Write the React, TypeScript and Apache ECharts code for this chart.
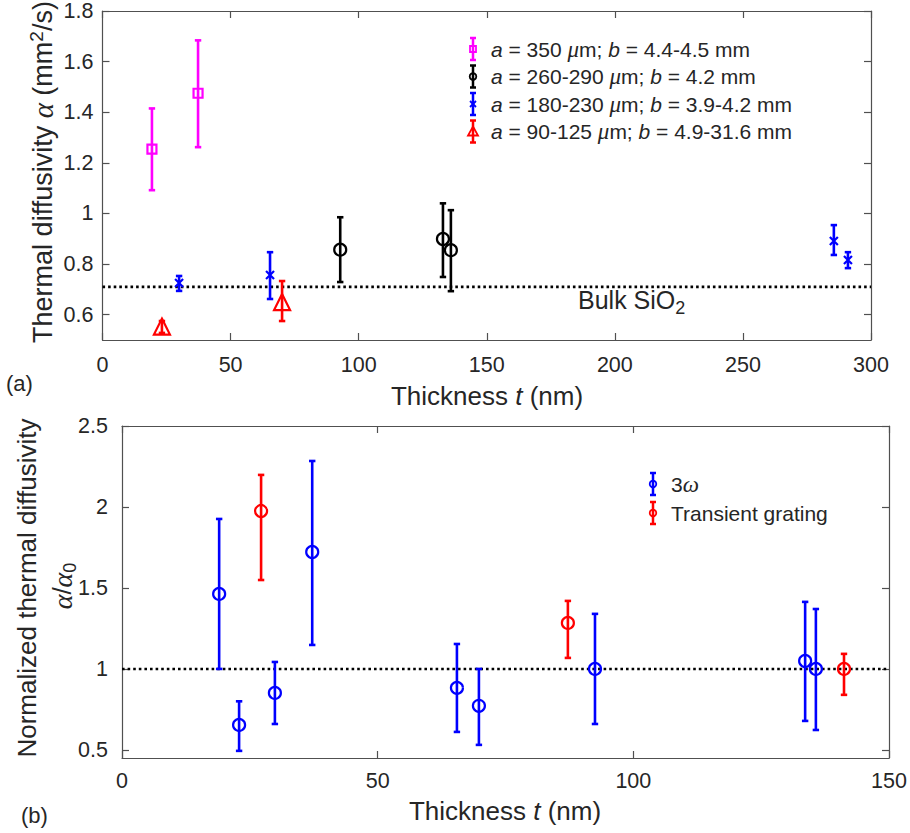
import React, { useEffect, useRef } from "react";
import * as echarts from "echarts";

// ---------- data ----------
// [thickness t (nm), value, lower, upper]
const magentaData = [
  [19.3, 1.254, 1.092, 1.415],
  [37.3, 1.475, 1.262, 1.684],
];
const blackData = [
  [92.8, 0.857, 0.729, 0.985],
  [132.9, 0.899, 0.749, 1.04],
  [136.0, 0.855, 0.693, 1.013],
];
const blueTopData = [
  [29.9, 0.725, 0.694, 0.753],
  [65.4, 0.757, 0.662, 0.847],
  [285.5, 0.891, 0.836, 0.954],
  [291.0, 0.816, 0.784, 0.847],
];
const redTopData = [
  [23.2, 0.553, 0.528, 0.575],
  [70.1, 0.65, 0.575, 0.733],
];
const omegaData = [
  [19.0, 1.463, 1.0, 1.926],
  [22.9, 0.654, 0.494, 0.8],
  [29.9, 0.852, 0.66, 1.043],
  [37.2, 1.722, 1.148, 2.284],
  [65.5, 0.883, 0.611, 1.154],
  [69.8, 0.772, 0.531, 1.0],
  [92.5, 1.0, 0.66, 1.34],
  [133.6, 1.049, 0.679, 1.414],
  [135.7, 1.0, 0.623, 1.37],
];
const tgData = [
  [27.2, 1.975, 1.549, 2.198],
  [87.2, 1.284, 1.068, 1.42],
  [141.2, 1.0, 0.84, 1.093],
];
const bulkAlpha = 0.71;
const normRef = 1;
const yTopTicks = [0.6, 0.8, 1, 1.2, 1.4, 1.6, 1.8];
const yBotTicks = [0.5, 1, 1.5, 2, 2.5];
const topLegend = [
  "{i|a} = 350 {g|\u03bc}m; {i|b} = 4.4-4.5 mm",
  "{i|a} = 260-290 {g|\u03bc}m; {i|b} = 4.2 mm",
  "{i|a} = 180-230 {g|\u03bc}m; {i|b} = 3.9-4.2 mm",
  "{i|a} = 90-125 {g|\u03bc}m; {i|b} = 4.9-31.6 mm",
];
const botLegend = ["3{g|\u03c9}", "Transient grating"];

// ---------- styling ----------
const FONT = "'Liberation Sans', Arial, Helvetica, sans-serif";
const SERIF = "'Liberation Serif', 'DejaVu Serif', serif";
const TXT = "#262626";
const AX = "#505050";
const MAG = "#ff00ff";
const BLU = "#0000ff";
const RED = "#ff0000";
const BLK = "#000000";
const TICK_FS = 21.5;
const TITLE_FS = 26;
const LEG_FS = 21;

const richBase = (fs: number) => ({
  i: { fontStyle: "italic", fontFamily: FONT, fontSize: fs, color: TXT },
  g: { fontStyle: "italic", fontFamily: SERIF, fontSize: fs + 2, color: TXT },
  sub: { fontFamily: FONT, fontSize: Math.round(fs * 0.7), color: TXT, padding: [16, 0, 0, 0], lineHeight: 14 },
  sup: { fontFamily: FONT, fontSize: Math.round(fs * 0.7), color: TXT, padding: [0, 0, 13, 0], lineHeight: 14 },
});

function errorBars(data: number[][], color: string, xi: number, yi: number) {
  return {
    type: "custom",
    xAxisIndex: xi,
    yAxisIndex: yi,
    data,
    silent: true,
    z: 2,
    encode: { x: 0, y: [1, 2, 3] },
    renderItem: (_p: any, api: any) => {
      const x = api.value(0);
      const a = api.coord([x, api.value(3)]);
      const b = api.coord([x, api.value(2)]);
      const st = { stroke: color, lineWidth: 2.6 };
      const c = 3.2;
      return {
        type: "group",
        children: [
          { type: "line", shape: { x1: a[0], y1: a[1], x2: b[0], y2: b[1] }, style: st },
          { type: "line", shape: { x1: a[0] - c, y1: a[1], x2: a[0] + c, y2: a[1] }, style: st },
          { type: "line", shape: { x1: b[0] - c, y1: b[1], x2: b[0] + c, y2: b[1] }, style: st },
        ],
      };
    },
  };
}

function markers(data: number[][], color: string, symbol: string, size: number, xi: number, yi: number) {
  return {
    type: "scatter",
    xAxisIndex: xi,
    yAxisIndex: yi,
    data: data.map((d) => [d[0], d[1]]),
    symbol,
    symbolSize: size,
    silent: true,
    z: 3,
    itemStyle: { color: "rgba(0,0,0,0)", borderColor: color, borderWidth: 2.2, opacity: 1 },
  };
}

function legendIcon(x: number, y: number, color: string, marker: string): any[] {
  const h = 11;
  const c = 3;
  const st = { stroke: color, lineWidth: 2.5 };
  const els: any[] = [
    { type: "line", shape: { x1: x, y1: y - h, x2: x, y2: y + h }, style: st },
    { type: "line", shape: { x1: x - c, y1: y - h, x2: x + c, y2: y - h }, style: st },
    { type: "line", shape: { x1: x - c, y1: y + h, x2: x + c, y2: y + h }, style: st },
  ];
  const ms = { stroke: color, lineWidth: 1.8, fill: "none" };
  if (marker === "square") els.push({ type: "rect", shape: { x: x - 3, y: y - 3, width: 6, height: 6 }, style: ms });
  if (marker === "circle") els.push({ type: "circle", shape: { cx: x, cy: y, r: 3.3 }, style: ms });
  if (marker === "x") {
    els.push({ type: "line", shape: { x1: x - 3, y1: y - 3, x2: x + 3, y2: y + 3 }, style: ms });
    els.push({ type: "line", shape: { x1: x - 3, y1: y + 3, x2: x + 3, y2: y - 3 }, style: ms });
  }
  if (marker === "triangle")
    els.push({ type: "polygon", shape: { points: [[x, y - 5], [x + 5, y + 4], [x - 5, y + 4]] }, style: ms });
  return els;
}

function text(x: number, y: number, str: string, fs: number, opts: any = {}) {
  return {
    type: "text",
    x,
    y,
    rotation: opts.rotation || 0,
    z: 10,
    style: {
      text: str,
      fontFamily: FONT,
      fontSize: fs,
      fill: TXT,
      align: opts.align || "left",
      verticalAlign: "middle",
      textAlign: opts.align || "left",
      textVerticalAlign: "middle",
      rich: richBase(fs),
    },
  };
}

const xAxisCommon = (min: number, max: number, grid: number, pos: string, labels: boolean, margin: number) => ({
  type: "value",
  gridIndex: grid,
  min,
  max,
  interval: 50,
  position: pos,
  axisLine: { show: true, onZero: false, lineStyle: { color: AX, width: 1.2 } },
  axisTick: { show: true, inside: true, length: 7, lineStyle: { color: AX, width: 1.2 } },
  axisLabel: { show: labels, color: TXT, fontSize: TICK_FS, fontFamily: FONT, margin },
  splitLine: { show: false },
});

const yAxisCommon = (min: number, max: number, ticks: number[], grid: number, pos: string, labels: boolean, margin: number) => ({
  type: "value",
  gridIndex: grid,
  min,
  max,
  position: pos,
  axisLine: { show: true, onZero: false, lineStyle: { color: AX, width: 1.2 } },
  axisTick: { show: true, inside: true, length: 7, customValues: ticks, lineStyle: { color: AX, width: 1.2 } },
  axisLabel: { show: labels, customValues: ticks, color: TXT, fontSize: TICK_FS, fontFamily: FONT, margin },
  splitLine: { show: false },
});

export default function App() {
  const ref = useRef<HTMLDivElement>(null);
  useEffect(() => {
    if (!ref.current) return;
    const chart = echarts.init(ref.current, null, { renderer: "svg" });
    const topMarkers = ["square", "circle", "x", "triangle"];
    const topColors = [MAG, BLK, BLU, RED];
    const graphic: any[] = [];
    topLegend.forEach((s, k) => {
      const y = 49 + k * 27.5;
      graphic.push(...legendIcon(473, y, topColors[k], topMarkers[k]));
      graphic.push(text(491, y, s, LEG_FS));
    });
    botLegend.forEach((s, k) => {
      const y = 484 + k * 29;
      graphic.push(...legendIcon(653, y, k === 0 ? BLU : RED, "circle"));
      graphic.push(text(671, y, s, LEG_FS));
    });
    graphic.push(text(578, 300, "Bulk SiO{sub|2}", 25));
    graphic.push(text(487, 396, "Thickness {i|t} (nm)", TITLE_FS, { align: "center" }));
    graphic.push(text(505, 811, "Thickness {i|t} (nm)", TITLE_FS, { align: "center" }));
    graphic.push(text(43, 172, "Thermal diffusivity {g|\u03b1} (mm{sup|2}/s)", 27, { align: "center", rotation: Math.PI / 2 }));
    graphic.push(text(27, 588, "Normalized thermal diffusivity", TITLE_FS, { align: "center", rotation: Math.PI / 2 }));
    graphic.push(text(62, 586, "{g|\u03b1}/{g|\u03b1}{sub|0}", TITLE_FS, { align: "center", rotation: Math.PI / 2 }));
    graphic.push(text(6, 383, "(a)", 22));
    graphic.push(text(21, 815, "(b)", 22));

    chart.setOption({
      animation: false,
      backgroundColor: "#ffffff",
      grid: [
        { left: 102.5, top: 8.5, width: 768.5, height: 331.5 },
        { left: 122, top: 426, width: 767, height: 332 },
      ],
      xAxis: [
        xAxisCommon(0, 300, 0, "bottom", true, 14),
        xAxisCommon(0, 300, 0, "top", false, 8),
        xAxisCommon(0, 150, 1, "bottom", true, 12),
        xAxisCommon(0, 150, 1, "top", false, 8),
      ],
      yAxis: [
        yAxisCommon(0.5, 1.8, yTopTicks, 0, "left", true, 9),
        yAxisCommon(0.5, 1.8, yTopTicks, 0, "right", false, 8),
        yAxisCommon(0.45, 2.5, yBotTicks, 1, "left", true, 14),
        yAxisCommon(0.45, 2.5, yBotTicks, 1, "right", false, 8),
      ],
      series: [
        {
          type: "line",
          xAxisIndex: 0,
          yAxisIndex: 0,
          data: [[0, bulkAlpha], [300, bulkAlpha]],
          symbol: "none",
          silent: true,
          z: 1,
          lineStyle: { color: BLK, width: 2.6, type: [2.6, 3] },
        },
        {
          type: "line",
          xAxisIndex: 2,
          yAxisIndex: 2,
          data: [[0, normRef], [150, normRef]],
          symbol: "none",
          silent: true,
          z: 1,
          lineStyle: { color: BLK, width: 2.6, type: [2.6, 3] },
        },
        errorBars(magentaData, MAG, 0, 0),
        markers(magentaData, MAG, "rect", 9, 0, 0),
        errorBars(blackData, BLK, 0, 0),
        markers(blackData, BLK, "circle", 12, 0, 0),
        errorBars(blueTopData, BLU, 0, 0),
        markers(blueTopData, BLU, "path://M0,0L10,10M10,0L0,10", 8, 0, 0),
        errorBars(redTopData, RED, 0, 0),
        markers(redTopData, RED, "triangle", 16, 0, 0),
        errorBars(omegaData, BLU, 2, 2),
        markers(omegaData, BLU, "circle", 12, 2, 2),
        errorBars(tgData, RED, 2, 2),
        markers(tgData, RED, "circle", 12, 2, 2),
      ],
      graphic,
    });
    return () => chart.dispose();
  }, []);
  return <div ref={ref} style={{ position: "fixed", left: 0, top: 0, width: 910, height: 833 }} />;
}
